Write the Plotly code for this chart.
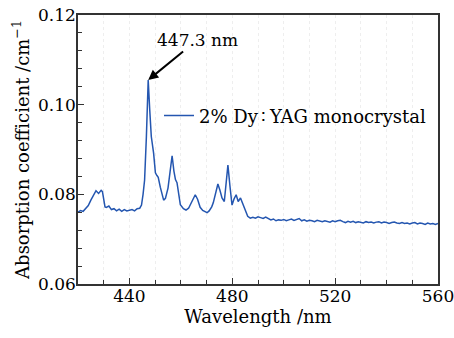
import numpy as np
import plotly.graph_objects as go

# ---- data ----
wl_head = [420, 421, 422, 423, 424, 425, 426, 427, 428, 429, 429.5, 430, 430.5, 431, 432, 433, 434,
           435, 436, 437, 438, 439, 440, 441, 442, 443, 444, 444.7, 445.3, 445.9, 446.6, 447.3,
           447.9, 448.5, 449.4, 450.1, 450.7, 451.2, 452.0, 452.6, 453.3, 454.0, 455.0, 455.8,
           456.6, 457.3, 457.9, 458.5, 459.0, 459.8, 461, 462, 463, 464, 465, 465.6, 466.5, 467.5,
           468.5, 469.3, 470.2, 471, 472, 472.6, 473.5, 474.4, 475.2, 476.0, 476.9, 477.6, 478.3,
           479.1, 479.9, 480.7, 481.5, 482.3, 483.2, 484, 485, 486, 487]
abs_head = [0.0760, 0.0764, 0.0762, 0.0769, 0.0775, 0.0787, 0.0797, 0.0808, 0.0802, 0.0809, 0.0806,
            0.0788, 0.0772, 0.0771, 0.0774, 0.0766, 0.0768, 0.0763, 0.0767, 0.0762, 0.0766, 0.0763,
            0.0764, 0.0766, 0.0763, 0.0768, 0.0769, 0.0776, 0.0800, 0.0832, 0.0929, 0.1055,
            0.0988, 0.0929, 0.0892, 0.0848, 0.0842, 0.0838, 0.0816, 0.0803, 0.0787, 0.0791, 0.0814,
            0.0850, 0.0886, 0.0852, 0.0833, 0.0826, 0.0806, 0.0777, 0.0768, 0.0765, 0.0769, 0.0781,
            0.0794, 0.0799, 0.0789, 0.0771, 0.0764, 0.0761, 0.0759, 0.0763, 0.0772, 0.0781, 0.0801,
            0.0823, 0.0809, 0.0792, 0.0784, 0.0822, 0.0865, 0.0818, 0.0776, 0.0790, 0.0799, 0.0784,
            0.0792, 0.0780, 0.0765, 0.0751, 0.0747]
wl_tail = list(range(488, 561))
abs_tail = [0.0749, 0.0747, 0.0750, 0.0748, 0.0746, 0.0749, 0.0745, 0.0743, 0.0745, 0.0741,
            0.0743, 0.0742, 0.0744, 0.0741, 0.0743, 0.0745, 0.0742, 0.0744, 0.0746, 0.0741,
            0.0743, 0.0740, 0.0742, 0.0741, 0.0739, 0.0742, 0.0740, 0.0739, 0.0741, 0.0740,
            0.0738, 0.0741, 0.0739, 0.0741, 0.0742, 0.0739, 0.0737, 0.0740, 0.0738, 0.0740,
            0.0737, 0.0739, 0.0738, 0.0736, 0.0739, 0.0737, 0.0738, 0.0736, 0.0738, 0.0739,
            0.0736, 0.0738, 0.0737, 0.0735, 0.0737, 0.0738, 0.0736, 0.0735, 0.0737, 0.0735,
            0.0736, 0.0734, 0.0736, 0.0737, 0.0734, 0.0736, 0.0735, 0.0733, 0.0736, 0.0734,
            0.0735, 0.0733, 0.0735]
wavelength = wl_head + wl_tail
absorption = abs_head + abs_tail

peak_wl = 447.3
peak_val = 0.1055
peak_label = "447.3 nm"
series_name = "2% Dy\u2009\u2236\u2009YAG monocrystal"

x_ticks = [440, 480, 520, 560]
y_ticks = [0.06, 0.08, 0.10, 0.12]

FONT = "DejaVu Serif"
BLUE = "#2456b0"

fig = go.Figure()
fig.add_trace(go.Scatter(x=wavelength, y=absorption, mode="lines",
                         line=dict(color=BLUE, width=1.5), name=series_name))

fig.add_annotation(x=peak_wl, y=peak_val, xref="x", yref="y", text=peak_label,
                   showarrow=True, arrowhead=2, arrowsize=1, arrowwidth=2, arrowcolor="black",
                   ax=49, ay=-40, font=dict(family=FONT, size=17, color="black"))

axis_common = dict(showline=True, linecolor="#333333", linewidth=1.5, mirror=True,
                   ticks="inside", ticklen=6, tickwidth=1.2, tickcolor="#333333",
                   zeroline=False, ticklabeloverflow="allow", automargin=False,
                   tickfont=dict(family=FONT, size=17, color="black"))

fig.update_xaxes(range=[420, 560], tickvals=x_ticks, ticklabelstandoff=-4,
                 showgrid=True, gridcolor="#eeeeee", griddash="dot", gridwidth=1,
                 minor=dict(dtick=10, tick0=420, ticks="inside", ticklen=4, tickcolor="#333333",
                            showgrid=True, gridcolor="#eeeeee", griddash="dot"),
                 title=dict(text="Wavelength /nm", font=dict(family=FONT, size=18, color="black"),
                            standoff=0),
                 **axis_common)
fig.update_yaxes(range=[0.06, 0.12], tickvals=y_ticks, tickformat=".2f", showgrid=False,
                 ticklabelstandoff=-3,
                 minor=dict(dtick=0.004, tick0=0.06, ticks="inside", ticklen=4, tickcolor="#333333"),
                 title=dict(text="Absorption coefficient /cm<sup>\u22121</sup>",
                            font=dict(family=FONT, size=18, color="black"), standoff=4),
                 **axis_common)

fig.update_layout(width=454, height=338, margin=dict(l=78, r=16, t=15, b=54),
                  paper_bgcolor="white", plot_bgcolor="white",
                  showlegend=True,
                  legend=dict(x=0.225, y=0.625, xanchor="left", yanchor="middle",
                              bgcolor="rgba(0,0,0,0)", font=dict(family=FONT, size=18, color="black"),
                              itemwidth=30))

fig.write_html("out.html")
